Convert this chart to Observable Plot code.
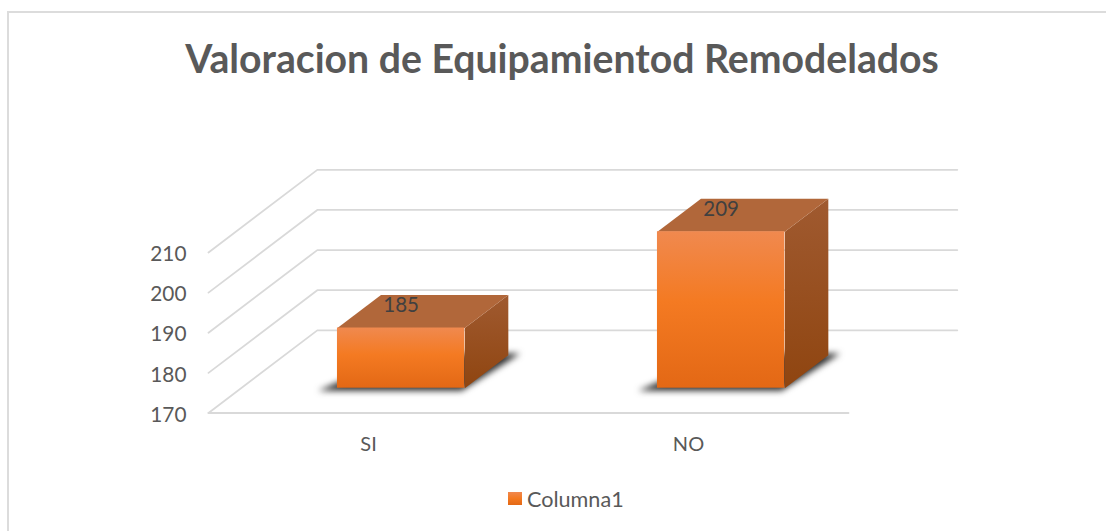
<!DOCTYPE html>
<html><head><meta charset="utf-8">
<script src="https://cdn.jsdelivr.net/npm/d3@7"></script>
<script src="https://cdn.jsdelivr.net/npm/@observablehq/plot@0.6"></script>
<style>
html,body{margin:0;padding:0;background:#fff;overflow:hidden}
#page{position:relative;width:1106px;height:531px;overflow:hidden;font-family:Lato,sans-serif;color:#595959}
#frame{position:absolute;left:7px;top:11px;width:1200px;height:700px;border:2px solid #dcdcdc;box-sizing:border-box}
#title{position:absolute;left:0;top:0;width:1124px;height:100px;padding-top:35px;box-sizing:border-box;text-align:center;font-size:39.2px;font-weight:700;line-height:46px;white-space:nowrap}
#chart{position:absolute;left:0;top:100px}
#chart svg{display:block}
#legend{position:absolute;left:508px;top:470px;height:61px;display:flex;align-items:flex-start;font-size:21.6px;line-height:24px;padding-top:17px;box-sizing:border-box}
#legend i{display:block;width:14px;height:13px;margin:5px 5px 0 0;background:linear-gradient(#f0884f,#f47920 50%,#e36815)}
</style></head>
<body>
<div id="page">
<div id="frame"></div>
<div id="title"></div>
<div id="chart"></div>
<div id="legend"></div>
</div>
<script>
// Chart content
const titleText = "Valoracion de Equipamientod Remodelados";
const legendLabel = "Columna1";
const categories = ["SI", "NO"];
const values = [185, 209];
const yTicks = [170, 180, 190, 200, 210];

// Oblique 3D projection, expressed in data units
const depthX = 0.34, depthY = 20.6;
const project = (x, v, d) => ({x: x + d * depthX, y: v + d * depthY});
const halfWidth = 0.199, dFront = 0.3, dBack = 0.7, base = 170;
const centers = categories.map((_, i) => i + 0.5);

const face = (id, pts) => pts.map(([x, v, d]) => ({id, ...project(x, v, d)}));

const grid = yTicks.flatMap(t => face(t, [[0, t, 0], [0, t, 1], [2, t, 1]]));
const floorFront = face("front", [[0, base, 0], [2, base, 0]]);

const tops = values.flatMap((v, i) => {
  const c = centers[i], l = c - halfWidth, r = c + halfWidth;
  return face(i, [[l, v, dFront], [r, v, dFront], [r, v, dBack], [l, v, dBack]]);
});
const sides = values.flatMap((v, i) => {
  const r = centers[i] + halfWidth;
  return face(i, [[r, base, dFront], [r, v, dFront], [r, v, dBack], [r, base, dBack]]);
});
const shadows = values.flatMap((v, i) => {
  const c = centers[i], l = c - halfWidth - 0.05, r = c + halfWidth + 0.03;
  return face(i, [[l, base, 0.27], [c + halfWidth, base, 0.27], [r, base, 0.72], [l + 0.12, base, 0.72]]);
});
const fronts = values.map((v, i) => {
  const a = project(centers[i] - halfWidth, base, dFront), b = project(centers[i] + halfWidth, v, dFront);
  return {x1: a.x, x2: b.x, y1: a.y, y2: b.y};
});
const labels = values.map((v, i) => ({
  x: project(centers[i], v, dFront).x, y: project(centers[i], v, 0.5).y, text: String(v)
}));

const gradient = (id, stops) => () => {
  const s = d3.create("svg:defs");
  const g = s.append("linearGradient").attr("id", id).attr("x1", 0).attr("y1", 0).attr("x2", 0).attr("y2", 1);
  stops.forEach(([o, c]) => g.append("stop").attr("offset", o).attr("stop-color", c));
  return s.node();
};

const line = {stroke: "#d9d9d9", strokeWidth: 1.8, curve: "linear"};
const plot = Plot.plot({
  width: 1106, height: 370,
  marginLeft: 208, marginRight: 258, marginTop: 152, marginBottom: 57.5,
  x: {domain: [0, 2]},
  y: {domain: [170, 210]},
  style: {fontFamily: "Lato, sans-serif", background: "transparent", color: "#595959", overflow: "visible"},
  marks: [
    gradient("frontFill", [[0, "#f0894f"], [0.45, "#f47a22"], [1, "#e36815"]]),
    gradient("sideFill", [[0, "#a05a30"], [1, "#8f4510"]]),
    Plot.line(grid, {x: "x", y: "y", z: "id", ...line}),
    Plot.line(floorFront, {x: "x", y: "y", z: "id", ...line}),
    Plot.line(shadows, {x: "x", y: "y", z: "id", fill: "#303030", stroke: "none", curve: "linear-closed", imageFilter: "blur(3px)"}),
    Plot.line(sides, {x: "x", y: "y", z: "id", fill: "url(#sideFill)", stroke: "none", curve: "linear-closed"}),
    Plot.line(tops, {x: "x", y: "y", z: "id", fill: "#b1673a", stroke: "none", curve: "linear-closed"}),
    Plot.rect(fronts, {x1: "x1", x2: "x2", y1: "y1", y2: "y2", fill: "url(#frontFill)"}),
    Plot.text(labels, {x: "x", y: "y", text: "text", fontSize: 20.5, fill: "#404040", dy: -6}),
    Plot.axisY(yTicks, {anchor: "left", tickSize: 0, tickPadding: 22, fontSize: 20.8, label: null, tickFormat: d => String(d), dy: 2}),
    Plot.axisX(centers, {anchor: "bottom", tickSize: 0, tickPadding: 24, fontSize: 20, label: null, tickFormat: (d, i) => categories[i]})
  ]
});
document.getElementById("chart").append(plot);
document.getElementById("title").textContent = titleText;
const lg = document.getElementById("legend");
lg.innerHTML = "<i></i>";
lg.append(legendLabel);
</script>
</body></html>
